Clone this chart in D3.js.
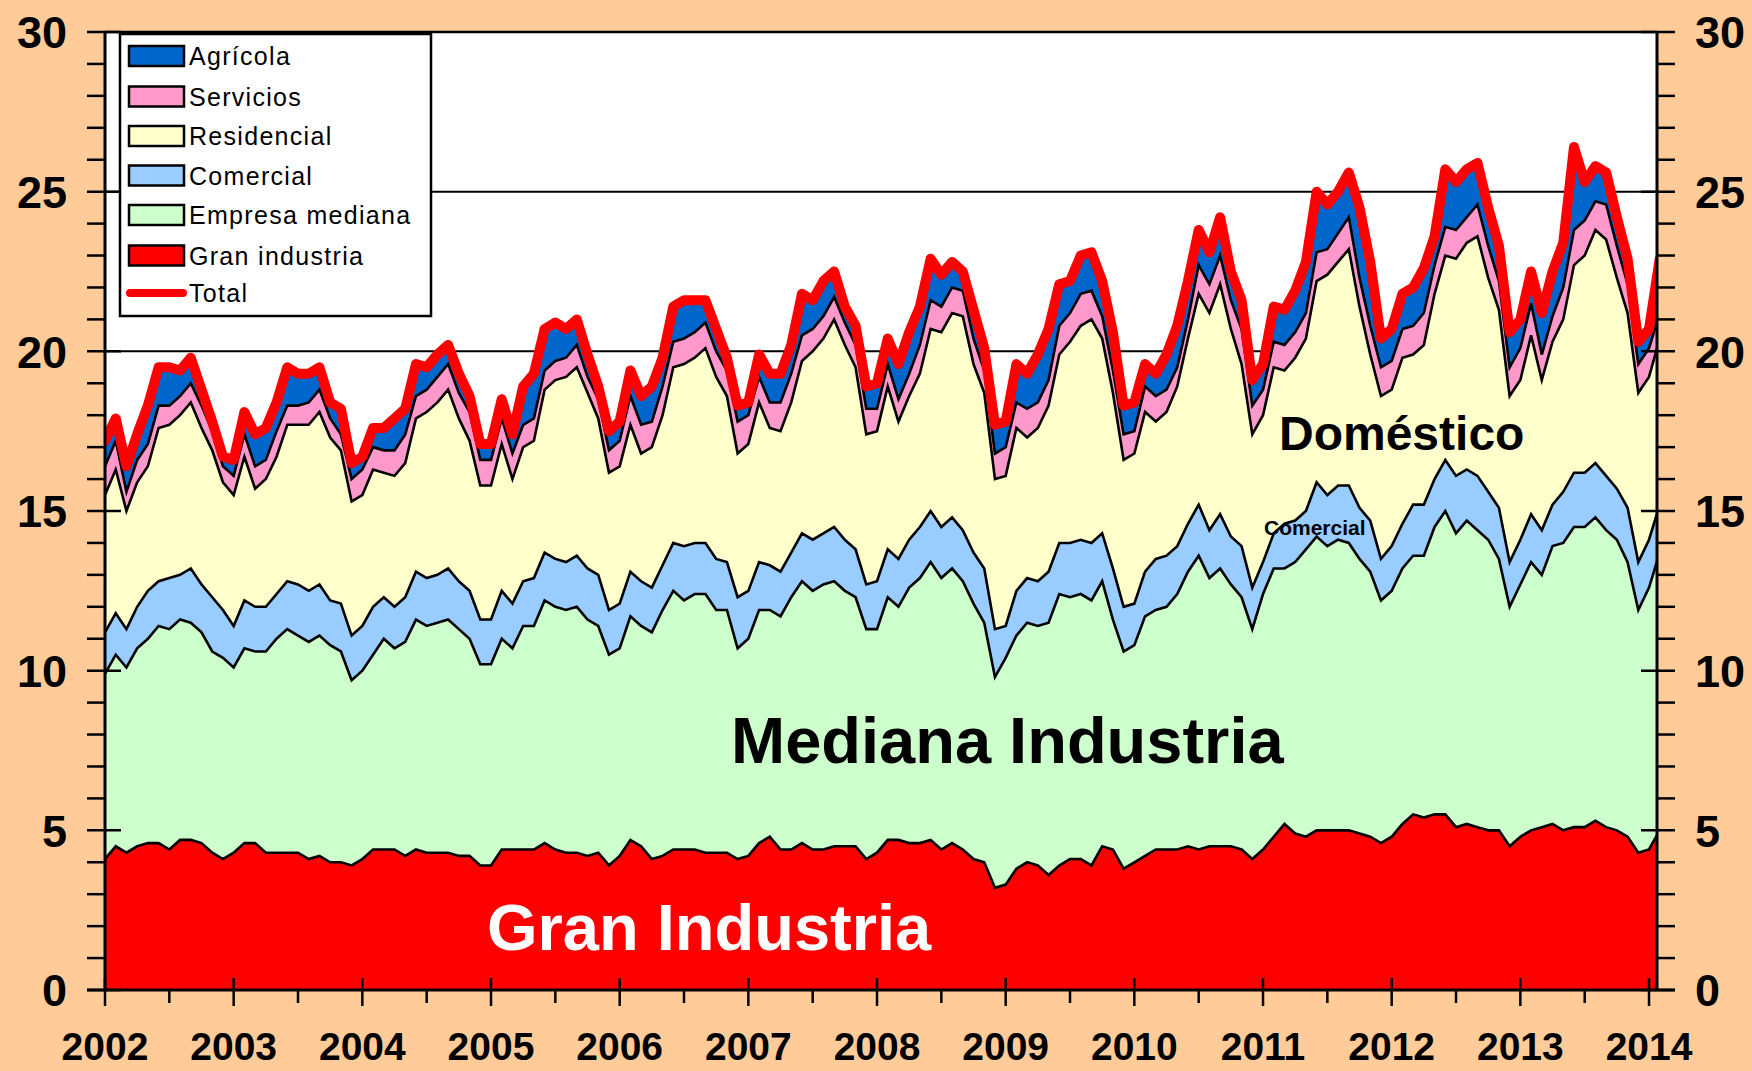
<!DOCTYPE html>
<html>
<head>
<meta charset="utf-8">
<script src="https://cdn.jsdelivr.net/npm/d3@7"></script>
<style>
  html, body { margin: 0; padding: 0; background: #FFCC99; }
  svg { display: block; }
  text { font-family: "Liberation Sans", Arial, sans-serif; }
</style>
</head>
<body>
<svg id="chart" width="1752" height="1071"></svg>
<script>
// ---- Data (monthly, Jan 2002 .. Feb 2014) ----
const startYear = 2002;
const gran = [
  4.1,4.5,4.3,4.5,4.6,4.6,4.4,4.7,4.7,4.6,4.3,4.1,
  4.3,4.6,4.6,4.3,4.3,4.3,4.3,4.1,4.2,4.0,4.0,3.9,
  4.1,4.4,4.4,4.4,4.2,4.4,4.3,4.3,4.3,4.2,4.2,3.9,
  3.9,4.4,4.4,4.4,4.4,4.6,4.4,4.3,4.3,4.2,4.3,3.9,
  4.2,4.7,4.5,4.1,4.2,4.4,4.4,4.4,4.3,4.3,4.3,4.1,
  4.2,4.6,4.8,4.4,4.4,4.6,4.4,4.4,4.5,4.5,4.5,4.1,
  4.3,4.7,4.7,4.6,4.6,4.7,4.4,4.6,4.4,4.1,4.0,3.2,
  3.3,3.8,4.0,3.9,3.6,3.9,4.1,4.1,3.9,4.5,4.4,3.8,
  4.0,4.2,4.4,4.4,4.4,4.5,4.4,4.5,4.5,4.5,4.4,4.1,
  4.4,4.8,5.2,4.9,4.8,5.0,5.0,5.0,5.0,4.9,4.8,4.6,
  4.8,5.2,5.5,5.4,5.5,5.5,5.1,5.2,5.1,5.0,5.0,4.5,
  4.8,5.0,5.1,5.2,5.0,5.1,5.1,5.3,5.1,5.0,4.8,4.3,
  4.4,5.0
];
const mediana = [
  5.8,6.0,5.8,6.2,6.4,6.8,6.9,6.9,6.8,6.6,6.3,6.3,
  5.8,6.1,6.0,6.3,6.7,7.0,6.8,6.8,6.9,6.8,6.6,5.8,
  5.9,6.1,6.6,6.3,6.7,7.2,7.1,7.2,7.3,7.1,6.8,6.3,
  6.3,6.6,6.3,7.0,7.0,7.6,7.6,7.6,7.7,7.4,7.1,6.6,
  6.5,7.0,6.9,7.1,7.7,8.1,7.8,8.0,8.1,7.6,7.6,6.6,
  6.8,7.3,7.1,7.3,7.9,8.2,8.1,8.3,8.3,8.0,7.8,7.2,
  7.0,7.6,7.3,8.0,8.3,8.7,8.5,8.6,8.4,8.0,7.5,6.6,
  7.1,7.3,7.5,7.5,7.9,8.5,8.2,8.3,8.3,8.3,7.2,6.8,
  6.8,7.5,7.5,7.6,8.0,8.6,9.2,8.4,8.7,8.2,7.9,7.2,
  8.0,8.4,8.0,8.5,9.0,9.2,8.9,9.1,9.0,8.6,8.3,7.6,
  7.7,8.0,8.1,8.2,9.0,9.5,9.2,9.5,9.3,9.1,8.5,7.5,
  7.9,8.4,7.9,8.7,9.0,9.4,9.4,9.5,9.3,9.1,8.6,7.6,
  8.2,8.7
];
const comercial = [
  1.3,1.3,1.2,1.3,1.5,1.4,1.6,1.4,1.7,1.5,1.7,1.5,
  1.3,1.5,1.4,1.4,1.4,1.5,1.6,1.6,1.6,1.4,1.5,1.4,
  1.4,1.5,1.3,1.3,1.4,1.5,1.5,1.5,1.6,1.5,1.5,1.4,
  1.4,1.5,1.4,1.4,1.5,1.5,1.5,1.5,1.6,1.6,1.6,1.4,
  1.4,1.4,1.4,1.4,1.4,1.5,1.7,1.6,1.6,1.6,1.5,1.6,
  1.5,1.5,1.4,1.4,1.4,1.5,1.6,1.6,1.7,1.6,1.5,1.4,
  1.5,1.5,1.5,1.5,1.6,1.6,1.6,1.6,1.6,1.6,1.7,1.5,
  1.0,1.4,1.4,1.4,1.6,1.6,1.7,1.7,1.8,1.5,1.6,1.4,
  1.3,1.4,1.6,1.6,1.5,1.5,1.6,1.5,1.7,1.5,1.6,1.3,
  1.0,1.1,1.4,1.3,1.2,1.7,1.6,1.7,1.8,1.6,1.6,1.3,
  1.4,1.4,1.6,1.6,1.5,1.6,1.8,1.6,1.7,1.5,1.6,1.4,
  1.4,1.5,1.4,1.3,1.6,1.7,1.7,1.7,1.7,1.6,1.7,1.5,
  1.5,1.5
];
const residencial = [
  4.3,4.5,3.7,3.9,3.9,4.8,4.8,5.0,5.2,4.9,4.6,4.0,
  4.1,4.5,3.7,4.0,4.3,4.9,5.0,5.2,5.4,5.1,4.8,4.2,
  4.1,4.3,3.9,4.1,4.2,4.8,5.2,5.4,5.6,5.1,4.7,4.2,
  4.2,4.6,3.9,4.2,4.3,5.1,5.6,5.8,5.9,5.5,4.9,4.3,
  4.3,4.6,4.0,4.4,4.7,5.5,5.7,5.8,6.1,5.7,5.2,4.5,
  4.6,5.0,4.3,4.4,4.7,5.4,5.9,6.1,6.5,6.1,5.7,4.7,
  4.7,5.1,4.3,4.5,4.8,5.7,6.1,6.4,6.7,5.9,5.5,4.7,
  4.7,5.1,4.4,4.8,5.2,5.9,6.3,6.7,7.0,6.1,5.5,4.6,
  4.7,5.0,4.3,4.5,5.0,5.8,6.6,6.8,7.2,6.5,5.7,4.8,
  4.6,5.2,4.8,5.1,5.4,6.3,6.9,7.0,7.4,6.3,5.2,5.1,
  4.9,5.2,4.7,5.0,5.8,6.4,6.8,7.1,7.5,6.7,6.2,5.2,
  5.0,5.6,4.7,5.1,5.4,6.5,6.8,7.3,7.4,6.6,6.1,5.3,
  5.1,5.2
];
const servicios = [
  0.9,0.9,0.6,0.7,0.7,0.7,0.6,0.6,0.6,0.7,0.6,0.5,
  0.6,0.7,0.7,0.6,0.8,0.6,0.6,0.7,0.7,0.6,0.5,0.7,
  0.8,0.7,0.7,0.8,0.9,0.7,0.7,0.8,0.8,0.8,0.9,0.8,
  0.8,0.8,0.8,0.7,0.7,0.6,0.6,0.6,0.7,0.5,0.6,0.7,
  0.8,0.9,0.9,0.8,0.9,0.8,0.8,0.8,0.8,0.8,0.8,1.0,
  0.9,0.8,0.8,0.9,0.9,0.8,0.7,0.7,0.7,0.7,0.7,0.8,
  0.7,0.7,0.7,0.7,0.9,0.9,0.8,0.8,0.8,0.8,0.7,0.8,
  0.9,0.8,0.9,0.8,0.8,0.9,0.9,1.0,0.9,0.7,0.7,0.8,
  0.7,0.8,0.8,0.7,0.6,0.6,0.9,0.9,0.9,0.9,1.1,0.9,
  0.8,0.8,0.8,0.8,0.8,0.9,0.8,0.9,1.0,0.9,0.9,0.9,
  0.9,0.9,0.9,1.0,0.9,0.9,0.9,0.8,1.0,1.0,0.9,0.9,
  1.0,1.0,0.8,0.8,1.0,1.1,1.1,0.9,1.1,1.0,0.9,0.9,
  0.9,0.8
];
const agricola = [
  0.8,0.7,0.8,0.8,1.2,1.2,1.2,0.8,0.8,0.5,0.3,0.3,
  0.5,0.7,1.0,1.0,0.9,1.2,1.0,0.9,0.7,0.5,0.8,0.5,
  0.4,0.6,0.7,1.0,0.8,1.0,0.7,0.7,0.6,0.6,0.5,0.5,
  0.5,0.6,0.6,1.2,1.4,1.3,1.2,0.9,0.8,0.7,0.4,0.6,
  0.6,0.8,0.9,1.1,0.9,1.1,1.2,1.0,0.7,0.7,0.4,0.5,
  0.4,0.7,0.9,0.9,0.9,1.3,0.9,1.1,0.8,0.5,0.6,0.7,
  0.8,0.8,1.1,1.3,1.2,1.3,1.0,0.8,0.6,0.9,0.7,0.9,
  0.8,1.2,1.1,1.5,1.6,1.3,1.0,1.2,1.2,1.1,1.2,0.9,
  0.9,0.7,0.7,1.1,1.3,1.2,1.1,1.0,1.2,0.9,0.9,0.8,
  0.8,1.1,1.1,1.3,1.6,1.9,1.4,1.3,1.4,2.2,2.0,0.9,
  1.0,1.1,1.2,1.4,0.9,1.8,1.5,1.5,1.3,1.2,1.1,1.1,
  0.9,1.0,1.3,1.4,1.4,2.6,1.2,1.1,1.0,0.9,0.8,0.7,
  0.6,1.7
];
const yTicks = [0, 5, 10, 15, 20, 25, 30];
const yearLabels = ["2002","2003","2004","2005","2006","2007","2008","2009","2010","2011","2012","2013","2014"];
const legendLabels = ["Agrícola", "Servicios", "Residencial", "Comercial", "Empresa mediana", "Gran industria", "Total"];

// ---- Setup ----
const keys = ["gran", "mediana", "comercial", "residencial", "servicios", "agricola"];
const colors = {
  gran: "#FF0000", mediana: "#CCFFCC", comercial: "#99CCFF",
  residencial: "#FFFFCC", servicios: "#FF99CC", agricola: "#0066CC"
};
const series = { gran, mediana, comercial, residencial, servicios, agricola };
const rows = gran.map((_, i) => {
  const r = { t: startYear + i / 12 };
  keys.forEach(k => r[k] = series[k][i]);
  return r;
});

const L = 105, R = 1657, T = 32, B = 990;
const x = d3.scaleLinear().domain([2002, 2014.062]).range([L, R]);
const y = d3.scaleLinear().domain([0, 30]).range([B, T]);

const svg = d3.select("#chart");
svg.append("rect").attr("width", 1752).attr("height", 1071).attr("fill", "#FFCC99");
svg.append("rect").attr("x", L).attr("y", T).attr("width", R - L).attr("height", B - T).attr("fill", "#FFFFFF");

svg.append("defs").append("clipPath").attr("id", "clip")
  .append("rect").attr("x", L).attr("y", T - 10).attr("width", R - L).attr("height", B - T + 10);

// gridlines
svg.append("g").selectAll("line").data(yTicks.filter(v => v > 0 && v < 30)).join("line")
  .attr("x1", L).attr("x2", R).attr("y1", d => y(d)).attr("y2", d => y(d))
  .attr("stroke", "#000").attr("stroke-width", 2);

const stacked = d3.stack().keys(keys)(rows);
const area = d3.area().x(d => x(d.data.t)).y0(d => y(d[0])).y1(d => y(d[1]));
const line = d3.line().x(d => x(d.data.t)).y(d => y(d[1]));

const gPlot = svg.append("g").attr("clip-path", "url(#clip)");
gPlot.selectAll("path.area").data(stacked).join("path")
  .attr("class", "area").attr("d", area).attr("fill", d => colors[d.key]);
gPlot.selectAll("path.edge").data(stacked).join("path")
  .attr("class", "edge").attr("d", line).attr("fill", "none")
  .attr("stroke", "#000").attr("stroke-width", 2.6).attr("stroke-linejoin", "miter");
gPlot.append("path").datum(stacked[stacked.length - 1])
  .attr("d", line).attr("fill", "none").attr("stroke", "#FF0000")
  .attr("stroke-width", 10).attr("stroke-linejoin", "round").attr("stroke-linecap", "round");

// frame / axes
const ax = svg.append("g").attr("stroke", "#000");
ax.append("line").attr("x1", L).attr("x2", R).attr("y1", T).attr("y2", T).attr("stroke-width", 2.5);
ax.append("line").attr("x1", L).attr("x2", L).attr("y1", T).attr("y2", B).attr("stroke-width", 3);
ax.append("line").attr("x1", R).attr("x2", R).attr("y1", T).attr("y2", B).attr("stroke-width", 3);
ax.append("line").attr("x1", L - 18).attr("x2", R + 18).attr("y1", B).attr("y2", B).attr("stroke-width", 3);

// y ticks (minor every 1, major every 5)
const yMinor = d3.range(0, 31);
yMinor.forEach(v => {
  const major = v % 5 === 0;
  const yy = y(v);
  ax.append("line").attr("x1", L - 18).attr("x2", major ? L + 16 : L).attr("y1", yy).attr("y2", yy).attr("stroke-width", 2.5);
  ax.append("line").attr("x1", R + 18).attr("x2", major ? R - 16 : R).attr("y1", yy).attr("y2", yy).attr("stroke-width", 2.5);
});
// x ticks (major years, minor half-years)
yearLabels.forEach((lab, i) => {
  const t = 2002 + i;
  ax.append("line").attr("x1", x(t)).attr("x2", x(t)).attr("y1", B - 12).attr("y2", B + 16).attr("stroke-width", 2.5);
  if (t + 0.5 < 2014.062) {
    ax.append("line").attr("x1", x(t + 0.5)).attr("x2", x(t + 0.5)).attr("y1", B).attr("y2", B + 13).attr("stroke-width", 2.5);
  }
});

// labels
const lab = svg.append("g").attr("font-weight", "bold").attr("fill", "#000");
yTicks.forEach(v => {
  lab.append("text").attr("x", 67).attr("y", y(v)).attr("dy", "0.36em")
    .attr("text-anchor", "end").attr("font-size", 45).text(v);
  lab.append("text").attr("x", 1695).attr("y", y(v)).attr("dy", "0.36em")
    .attr("text-anchor", "start").attr("font-size", 45).text(v);
});
yearLabels.forEach((s, i) => {
  lab.append("text").attr("x", x(2002 + i)).attr("y", 1060)
    .attr("text-anchor", "middle").attr("font-size", 39).text(s);
});

// annotations
svg.append("text").attr("x", 1279).attr("y", 450).attr("font-size", 48).attr("font-weight", "bold").text("Doméstico");
svg.append("text").attr("x", 1264).attr("y", 535).attr("font-size", 21).attr("font-weight", "bold").text("Comercial");
svg.append("text").attr("x", 731).attr("y", 763).attr("font-size", 65).attr("font-weight", "bold").text("Mediana Industria");
svg.append("text").attr("x", 487).attr("y", 950).attr("font-size", 65).attr("font-weight", "bold").attr("fill", "#FFFFFF").text("Gran Industria");

// legend
const lg = svg.append("g");
lg.append("rect").attr("x", 120).attr("y", 34).attr("width", 311).attr("height", 282)
  .attr("fill", "#FFFFFF").attr("stroke", "#000").attr("stroke-width", 2.5);
const legendKeys = ["agricola", "servicios", "residencial", "comercial", "mediana", "gran"];
const rowY = [56, 96.5, 136, 175.5, 215, 255.5, 293];
legendLabels.forEach((s, i) => {
  const cy = rowY[i];
  if (i < 6) {
    lg.append("rect").attr("x", 129).attr("y", cy - 10).attr("width", 55).attr("height", 20)
      .attr("fill", colors[legendKeys[i]]).attr("stroke", "#000").attr("stroke-width", 2.5);
  } else {
    lg.append("line").attr("x1", 130).attr("x2", 183).attr("y1", cy).attr("y2", cy)
      .attr("stroke", "#FF0000").attr("stroke-width", 8).attr("stroke-linecap", "round");
  }
  lg.append("text").attr("x", 189).attr("y", cy + 9).attr("font-size", 25)
    .attr("letter-spacing", "1.3px").attr("fill", "#000").text(s);
});
</script>
</body>
</html>
